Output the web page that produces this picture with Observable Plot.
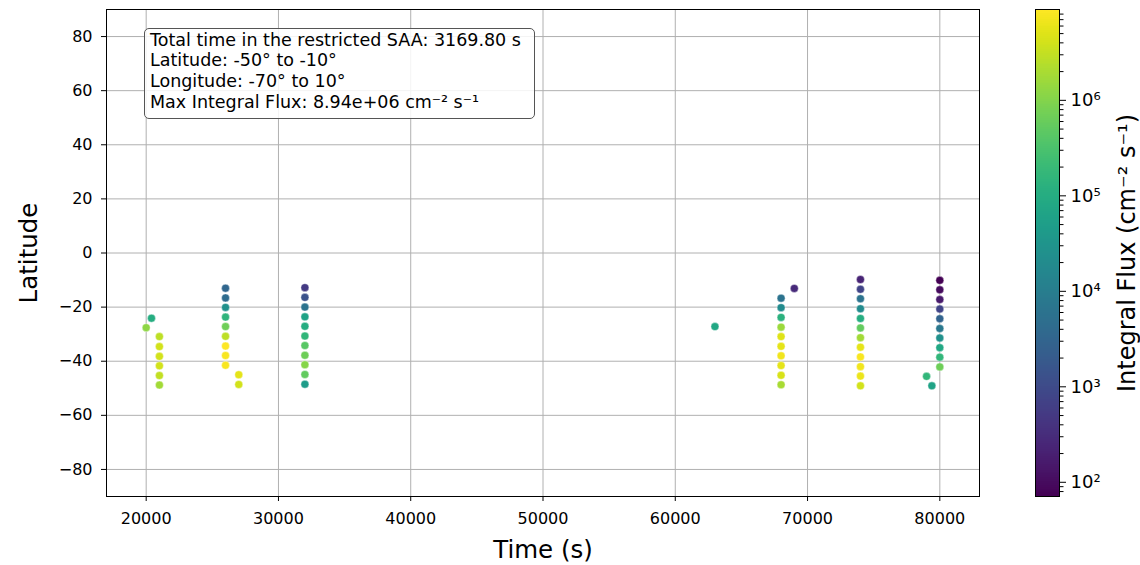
<!DOCTYPE html>
<html><head><meta charset="utf-8">
<script src="https://cdn.jsdelivr.net/npm/d3@7"></script>
<script src="https://cdn.jsdelivr.net/npm/@observablehq/plot@0.6"></script>
<style>
body{margin:0;background:#fff;font-family:"DejaVu Sans",sans-serif;}
#wrap{position:relative;width:1140px;height:565px;overflow:hidden;background:#fff;}
#wrap svg{position:absolute;left:0;top:0;overflow:visible;}
#box{position:absolute;left:144px;top:28px;width:391px;height:91px;box-sizing:border-box;border:1.5px solid #555;border-radius:5px;background:rgba(255,255,255,0.85);font-family:"DejaVu Sans";font-size:17.5px;line-height:20.7px;padding:0.5px 0 0 5px;color:#000;white-space:pre;}
</style>
</head><body>
<div id="wrap"></div>
<script>
// ---- data ----
const timeS = [
  20000, 20400,
  21000, 21000, 21000, 21000, 21000, 21000,
  26000, 26000, 26000, 26000, 26000, 26000, 26000, 26000, 26000,
  27000, 27000,
  32000, 32000, 32000, 32000, 32000, 32000, 32000, 32000, 32000, 32000, 32000,
  63000,
  68000, 68000, 68000, 68000, 68000, 68000, 68000, 68000, 68000, 68000,
  69000,
  74000, 74000, 74000, 74000, 74000, 74000, 74000, 74000, 74000, 74000, 74000, 74000,
  80000, 80000, 80000, 80000, 80000, 80000, 80000, 80000, 80000, 80000,
  79000, 79400
];
const latDeg = [
  -27.6, -24.1,
  -30.9, -34.6, -38.2, -41.7, -45.3, -48.8,
  -13.0, -16.6, -20.1, -23.7, -27.2, -30.8, -34.4, -37.9, -41.5,
  -45.0, -48.6,
  -12.8, -16.4, -20.0, -23.6, -27.1, -30.7, -34.2, -37.8, -41.3, -44.9, -48.5,
  -27.2,
  -16.7, -20.2, -23.8, -27.4, -30.9, -34.5, -38.0, -41.6, -45.2, -48.7,
  -13.1,
  -9.8, -13.4, -16.9, -20.6, -24.2, -27.7, -31.3, -34.8, -38.4, -42.0, -45.5, -49.1,
  -10.1, -13.6, -17.2, -20.7, -24.3, -27.9, -31.4, -35.0, -38.5, -42.1,
  -45.6, -49.1
];
const fluxVal = [
  1.21e6, 1.03e5,
  2.76e6, 3.93e6, 3.93e6, 3.93e6, 3.1e6, 1.73e6,
  3430, 4340, 25200, 147000, 675000, 2.76e6, 8.94e6, 7.94e6, 7.94e6,
  5.58e6, 3.93e6,
  525, 1343, 6170, 64600, 103000, 165000, 423000, 675000, 1.08e6, 533000, 45400,
  81700,
  6170, 19950, 131000, 1.53e6, 4.97e6, 5.58e6, 7.06e6, 5.58e6, 4.42e6, 1.94e6,
  292,
  231, 746, 6170, 19950, 103000, 533000, 1.73e6, 5.58e6, 7.94e6, 7.06e6, 6.28e6, 3.93e6,
  72, 101, 162, 746, 3050, 7800, 25200, 81700, 165000, 675000,
  165000, 64600
];
const xTicks = [20000, 30000, 40000, 50000, 60000, 70000, 80000];
const yTicks = [-80, -60, -40, -20, 0, 20, 40, 60, 80];
const cbarTicks = [1e2, 1e3, 1e4, 1e5, 1e6];
const fluxRange = [71, 8.94e6];
const infoLines = [
  "Total time in the restricted SAA: 3169.80 s",
  "Latitude: -50° to -10°",
  "Longitude: -70° to 10°",
  "Max Integral Flux: 8.94e+06 cm⁻² s⁻¹"
];

const points = timeS.map((t, i) => ({t, lat: latDeg[i], flux: fluxVal[i]}));
const colorScale = {type: "log", scheme: "viridis", domain: fluxRange};
const font = '"DejaVu Sans", sans-serif';

const main = Plot.plot({
  width: 1140, height: 565,
  marginLeft: 106, marginRight: 161, marginTop: 9, marginBottom: 69,
  style: {fontFamily: font, fontSize: "16px", color: "#000", background: "transparent"},
  x: {domain: [17000, 83000]},
  y: {domain: [-90, 90]},
  color: colorScale,
  marks: [
    Plot.gridX(xTicks, {stroke: "#b0b0b0", strokeOpacity: 1, strokeWidth: 1}),
    Plot.gridY(yTicks, {stroke: "#b0b0b0", strokeOpacity: 1, strokeWidth: 1}),
    Plot.dot(points, {x: "t", y: "lat", fill: "flux", r: 4, stroke: "white", strokeWidth: 0.4}),
    Plot.frame({stroke: "black", strokeWidth: 1}),
    Plot.axisX(xTicks, {tickSize: 5, tickPadding: 11, label: null, tickFormat: d => String(d), fontSize: 16}),
    Plot.axisY(yTicks, {tickSize: 5, tickPadding: 9, label: null, fontSize: 16}),
    Plot.text(["Time (s)"], {text: d => d, frameAnchor: "bottom", dy: 54, fontSize: 24.5, lineAnchor: "middle", textAnchor: "middle"}),
    Plot.text(["Latitude"], {text: d => d, frameAnchor: "left", dx: -77, rotate: -90, fontSize: 24.5, lineAnchor: "middle", textAnchor: "middle"})
  ]
});

// colorbar gradient steps (log-spaced across the colour domain)
const N = 256;
const lo = Math.log10(fluxRange[0]), hi = Math.log10(fluxRange[1]);
const steps = d3.range(N).map(i => ({
  y1: Math.pow(10, lo + (hi - lo) * i / N),
  y2: Math.pow(10, lo + (hi - lo) * (i + 1) / N),
  v: Math.pow(10, lo + (hi - lo) * (i + 0.5) / N)
}));
const minorTicks = [];
for (let e = 1; e <= 6; e++) for (let m = 2; m <= 9; m++) {
  const v = m * Math.pow(10, e);
  if (v >= fluxRange[0] && v <= fluxRange[1]) minorTicks.push(v);
}
const sup = {"0":"⁰","1":"¹","2":"²","3":"³","4":"⁴","5":"⁵","6":"⁶","7":"⁷","8":"⁸","9":"⁹"};
const cbar = Plot.plot({
  width: 1140, height: 565,
  marginLeft: 1035, marginRight: 81, marginTop: 9, marginBottom: 69,
  style: {fontFamily: font, fontSize: "18px", color: "#000", background: "transparent"},
  x: {domain: [0, 1], axis: null},
  y: {type: "log", domain: fluxRange, axis: null},
  color: colorScale,
  marks: [
    Plot.rect(steps, {x1: 0, x2: 1, y1: "y1", y2: "y2", fill: "v", shapeRendering: "crispEdges", insetTop: -0.3, insetBottom: -0.3}),
    Plot.frame({stroke: "black", strokeWidth: 1}),
    Plot.axisY(minorTicks, {anchor: "right", tickSize: 3.5, tickFormat: () => ""}),
    Plot.axisY(cbarTicks, {anchor: "right", tickSize: 6, tickPadding: 5, fontSize: 18,
      tickFormat: d => "10" + String(Math.round(Math.log10(d))).split("").map(c => sup[c]).join("")}),
    Plot.text(["Integral Flux (cm⁻² s⁻¹)"], {text: d => d, frameAnchor: "right", dx: 68, rotate: -90, fontSize: 24, lineAnchor: "middle", textAnchor: "middle"})
  ]
});

const wrap = document.getElementById("wrap");
wrap.appendChild(main);
wrap.appendChild(cbar);
const box = document.createElement("div");
box.id = "box";
box.textContent = infoLines.join("\n");
wrap.appendChild(box);
</script>
</body></html>
